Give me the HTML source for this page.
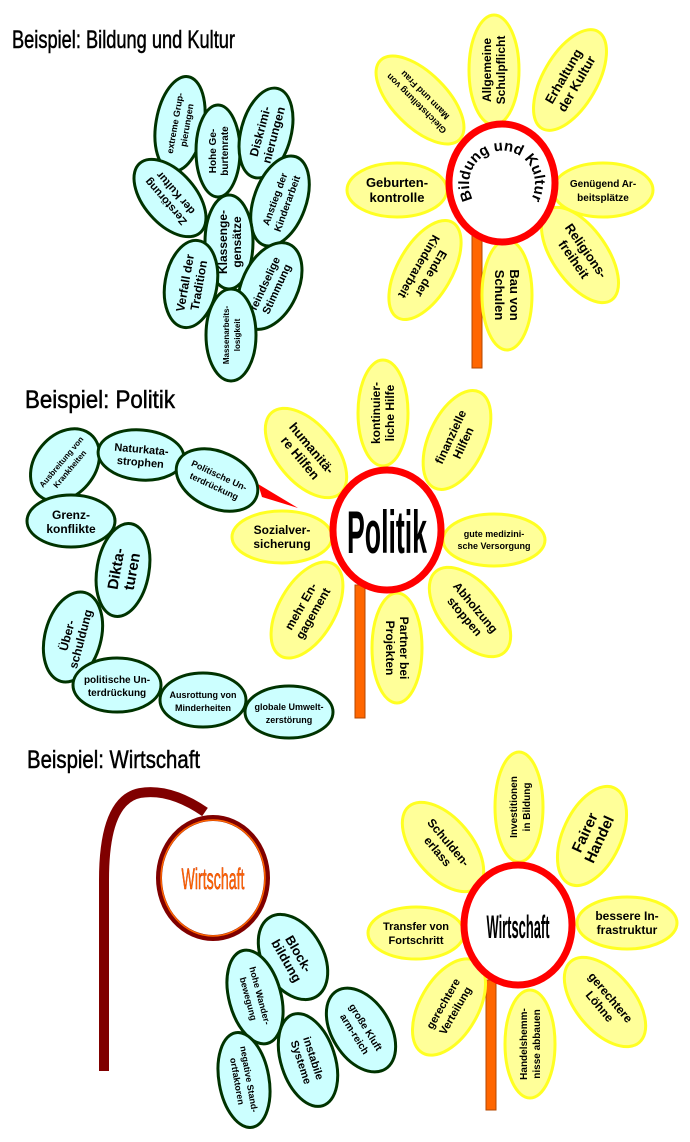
<!DOCTYPE html>
<html><head><meta charset="utf-8"><style>
html,body{margin:0;padding:0;background:#fff}
svg{display:block}
text{font-family:"Liberation Sans",sans-serif}
.y ellipse{fill:#ffff99;stroke:#ffff22;stroke-width:3}
.c ellipse{fill:#ccffff;stroke:#003300;stroke-width:3}
.t{font-weight:bold;text-anchor:middle;fill:#000}
.h{font-size:25px;fill:#000;stroke:#000;stroke-width:0.5}
</style></head><body>
<svg width="690" height="1142" viewBox="0 0 690 1142" xmlns="http://www.w3.org/2000/svg">
<defs>
<path id="arc1" d="M 485 212 A 33 33 0 1 1 519 212"/>
</defs>

<text class="h" x="12" y="48" textLength="223" lengthAdjust="spacingAndGlyphs">Beispiel: Bildung und Kultur</text>
<text class="h" x="25" y="408" textLength="150" lengthAdjust="spacingAndGlyphs">Beispiel: Politik</text>
<text class="h" x="27" y="768" textLength="173" lengthAdjust="spacingAndGlyphs">Beispiel: Wirtschaft</text>

<rect x="472" y="235" width="10" height="133" fill="#ff6600" stroke="#b34700" stroke-width="1"/>

<g class="y">
<g transform="translate(494,70) rotate(-90)"><ellipse rx="55" ry="25"/><text class="t" font-size="12" y="-3">Allgemeine</text><text class="t" font-size="12" y="11">Schulpflicht</text></g>
<g transform="translate(570,80) rotate(-60)"><ellipse rx="56" ry="27"/><text class="t" font-size="13" y="-3">Erhaltung</text><text class="t" font-size="13" y="12">der Kultur</text></g>
<g transform="translate(420,100) rotate(225)"><ellipse rx="56" ry="27"/><text class="t" font-size="9" y="-2">Gleichstellung von</text><text class="t" font-size="9" y="10">Mann und Frau</text></g>
<g transform="translate(397,190)"><ellipse rx="50" ry="27"/><text class="t" font-size="13" y="-3">Geburten-</text><text class="t" font-size="13" y="12">kontrolle</text></g>
<g transform="translate(603,190)"><ellipse rx="50" ry="27"/><text class="t" font-size="10" y="-3">Genügend Ar-</text><text class="t" font-size="10" y="11">beitsplätze</text></g>
<g transform="translate(580,255) rotate(55)"><ellipse rx="55" ry="27"/><text class="t" font-size="13" y="-3">Religions-</text><text class="t" font-size="13" y="12">freiheit</text></g>
<g transform="translate(507,295) rotate(90)"><ellipse rx="55" ry="25"/><text class="t" font-size="13" y="-3">Bau von</text><text class="t" font-size="13" y="12">Schulen</text></g>
<g transform="translate(425,270) rotate(120)"><ellipse rx="55" ry="27"/><text class="t" font-size="12" y="-3">Ende der</text><text class="t" font-size="12" y="11">Kinderarbeit</text></g>
</g>
<ellipse cx="502" cy="183" rx="53" ry="59" fill="#fff" stroke="#ff0000" stroke-width="7"/>
<text font-size="15" font-weight="bold"><textPath href="#arc1" startOffset="50%" text-anchor="middle">Bildung und Kultur</textPath></text>

<g class="c">
<g transform="translate(180,124) rotate(-80)"><ellipse rx="48" ry="24"/><text class="t" font-size="9" y="-2">extreme Grup-</text><text class="t" font-size="9" y="10">pierungen</text></g>
<g transform="translate(218,151) rotate(-90)"><ellipse rx="46" ry="22"/><text class="t" font-size="10" y="-2">Hohe Ge-</text><text class="t" font-size="10" y="10">burtenrate</text></g>
<g transform="translate(266,133) rotate(-75)"><ellipse rx="46" ry="25"/><text class="t" font-size="12" y="-2">Diskrimi-</text><text class="t" font-size="12" y="12">nierungen</text></g>
<g transform="translate(170,198) rotate(229)"><ellipse rx="46" ry="26"/><text class="t" font-size="11" y="-2">Zerstörung</text><text class="t" font-size="11" y="11">der Kultur</text></g>
<g transform="translate(280,201) rotate(-70)"><ellipse rx="47" ry="26"/><text class="t" font-size="10" y="-2">Anstieg der</text><text class="t" font-size="10" y="11">Kinderarbeit</text></g>
<g transform="translate(229,242) rotate(-90)"><ellipse rx="47" ry="24"/><text class="t" font-size="12" y="-2">Klassenge-</text><text class="t" font-size="12" y="12">gensätze</text></g>
<g transform="translate(191,284) rotate(-80)"><ellipse rx="44" ry="26"/><text class="t" font-size="12" y="-2">Verfall der</text><text class="t" font-size="12" y="12">Tradition</text></g>
<g transform="translate(270,286) rotate(-65)"><ellipse rx="46" ry="28"/><text class="t" font-size="11" y="-2">feindselige</text><text class="t" font-size="11" y="11">Stimmung</text></g>
<g transform="translate(231,335) rotate(-90)"><ellipse rx="46" ry="25"/><text class="t" font-size="8" y="-2">Massenarbeits-</text><text class="t" font-size="8" y="9">losigkeit</text></g>
</g>

<rect x="355" y="585" width="10" height="133" fill="#ff6600" stroke="#b34700" stroke-width="1"/>
<polygon points="258,484 262,497 298,508" fill="#ff0000"/>
<g class="y">
<g transform="translate(383,413) rotate(-90)"><ellipse rx="53" ry="25"/><text class="t" font-size="12" y="-3">kontinuier-</text><text class="t" font-size="12" y="11">liche Hilfe</text></g>
<g transform="translate(457,440) rotate(-65)"><ellipse rx="53" ry="28"/><text class="t" font-size="12" y="-3">finanzielle</text><text class="t" font-size="12" y="11">Hilfen</text></g>
<g transform="translate(306,453) rotate(50)"><ellipse rx="53" ry="29"/><text class="t" font-size="13" y="-3">humanitä-</text><text class="t" font-size="13" y="12">re Hilfen</text></g>
<g transform="translate(282,537)"><ellipse rx="50" ry="26"/><text class="t" font-size="12" y="-3">Sozialver-</text><text class="t" font-size="12" y="11">sicherung</text></g>
<g transform="translate(494,540)"><ellipse rx="51" ry="26"/><text class="t" font-size="9" y="-3">gute medizini-</text><text class="t" font-size="9" y="9">sche Versorgung</text></g>
<g transform="translate(307,610) rotate(-60)"><ellipse rx="53" ry="28"/><text class="t" font-size="12" y="-3">mehr En-</text><text class="t" font-size="12" y="11">gagement</text></g>
<g transform="translate(397,648) rotate(90)"><ellipse rx="55" ry="25"/><text class="t" font-size="12" y="-3">Partner bei</text><text class="t" font-size="12" y="11">Projekten</text></g>
<g transform="translate(470,612) rotate(50)"><ellipse rx="53" ry="29"/><text class="t" font-size="12" y="-3">Abholzung</text><text class="t" font-size="12" y="11">stoppen</text></g>
</g>
<ellipse cx="387" cy="530" rx="54" ry="60" fill="#fff" stroke="#ff0000" stroke-width="7"/>
<text x="387" y="553" font-size="60" font-weight="bold" text-anchor="middle" textLength="80" lengthAdjust="spacingAndGlyphs">Politik</text>

<g class="c">
<g transform="translate(65,465) rotate(-50)"><ellipse rx="40" ry="30"/><text class="t" font-size="8" y="-2">Ausbreitung von</text><text class="t" font-size="8" y="9">Krankheiten</text></g>
<g transform="translate(141,455) rotate(5)"><ellipse rx="43" ry="25"/><text class="t" font-size="11" y="-2">Naturkata-</text><text class="t" font-size="11" y="11">strophen</text></g>
<g transform="translate(217,480) rotate(25)"><ellipse rx="43" ry="28"/><text class="t" font-size="9" y="-2">Politische Un-</text><text class="t" font-size="9" y="10">terdrückung</text></g>
<g transform="translate(71,521)"><ellipse rx="44" ry="26"/><text class="t" font-size="12" y="-2">Grenz-</text><text class="t" font-size="12" y="12">konflikte</text></g>
<g transform="translate(123,570) rotate(-80)"><ellipse rx="47" ry="26"/><text class="t" font-size="15" y="-2">Dikta-</text><text class="t" font-size="15" y="14">turen</text></g>
<g transform="translate(73,637) rotate(-75)"><ellipse rx="46" ry="28"/><text class="t" font-size="12" y="-2">Über-</text><text class="t" font-size="12" y="12">schuldung</text></g>
<g transform="translate(117,685)"><ellipse rx="44" ry="27"/><text class="t" font-size="10" y="-2">politische Un-</text><text class="t" font-size="10" y="11">terdrückung</text></g>
<g transform="translate(203,700)"><ellipse rx="43" ry="27"/><text class="t" font-size="9" y="-2">Ausrottung von</text><text class="t" font-size="9" y="11">Minderheiten</text></g>
<g transform="translate(289,712)"><ellipse rx="44" ry="26"/><text class="t" font-size="9" y="-2">globale Umwelt-</text><text class="t" font-size="9" y="11">zerstörung</text></g>
</g>

<path d="M 104 1071 L 104 880 Q 104 800 140 793 Q 170 788 205 812" fill="none" stroke="#800000" stroke-width="10"/>
<ellipse cx="213" cy="878" rx="54" ry="60" fill="#fff" stroke="#800000" stroke-width="6"/>
<ellipse cx="213" cy="878" rx="52" ry="58" fill="none" stroke="#ff6600" stroke-width="1.5"/>
<text x="213" y="889" font-size="30" text-anchor="middle" textLength="63" lengthAdjust="spacingAndGlyphs" fill="#ff6600" stroke="#cc3300" stroke-width="0.5">Wirtschaft</text>

<g class="c">
<g transform="translate(293,957) rotate(60)"><ellipse rx="46" ry="30"/><text class="t" font-size="13" y="-2">Block-</text><text class="t" font-size="13" y="12">bildung</text></g>
<g transform="translate(255,997) rotate(75)"><ellipse rx="48" ry="26"/><text class="t" font-size="9" y="-2">hohe Wander-</text><text class="t" font-size="9" y="10">bewegung</text></g>
<g transform="translate(244,1080) rotate(80)"><ellipse rx="48" ry="25"/><text class="t" font-size="9" y="-2">negative Stand-</text><text class="t" font-size="9" y="10">ortfaktoren</text></g>
<g transform="translate(308,1060) rotate(72)"><ellipse rx="48" ry="27"/><text class="t" font-size="11" y="-2">instabile</text><text class="t" font-size="11" y="11">Systeme</text></g>
<g transform="translate(361,1030) rotate(58)"><ellipse rx="46" ry="29"/><text class="t" font-size="10" y="-2">große Kluft</text><text class="t" font-size="10" y="11">arm-reich</text></g>
</g>

<rect x="486" y="980" width="10" height="130" fill="#ff6600" stroke="#b34700" stroke-width="1"/>
<g class="y">
<g transform="translate(519,807) rotate(-90)"><ellipse rx="55" ry="24"/><text class="t" font-size="10" y="-2">Investitionen</text><text class="t" font-size="10" y="11">in Bildung</text></g>
<g transform="translate(592,836) rotate(-65)"><ellipse rx="53" ry="29"/><text class="t" font-size="15" y="-3">Fairer</text><text class="t" font-size="15" y="13">Handel</text></g>
<g transform="translate(443,847) rotate(50)"><ellipse rx="53" ry="29"/><text class="t" font-size="12" y="-3">Schulden-</text><text class="t" font-size="12" y="11">erlass</text></g>
<g transform="translate(416,933)"><ellipse rx="48" ry="26"/><text class="t" font-size="11" y="-3">Transfer von</text><text class="t" font-size="11" y="11">Fortschritt</text></g>
<g transform="translate(627,923)"><ellipse rx="50" ry="26"/><text class="t" font-size="12" y="-3">bessere In-</text><text class="t" font-size="12" y="11">frastruktur</text></g>
<g transform="translate(449,1007) rotate(-60)"><ellipse rx="53" ry="29"/><text class="t" font-size="11" y="-3">gerechtere</text><text class="t" font-size="11" y="11">Verteilung</text></g>
<g transform="translate(530,1044) rotate(-90)"><ellipse rx="54" ry="25"/><text class="t" font-size="10" y="-3">Handelshemm-</text><text class="t" font-size="10" y="10">nisse abbauen</text></g>
<g transform="translate(605,1002) rotate(50)"><ellipse rx="53" ry="29"/><text class="t" font-size="12" y="-3">gerechtere</text><text class="t" font-size="12" y="11">Löhne</text></g>
</g>
<ellipse cx="518" cy="925" rx="54" ry="60" fill="#fff" stroke="#ff0000" stroke-width="7"/>
<text x="518" y="938" font-size="32" font-weight="bold" text-anchor="middle" textLength="63" lengthAdjust="spacingAndGlyphs">Wirtschaft</text>
</svg>
</body></html>
